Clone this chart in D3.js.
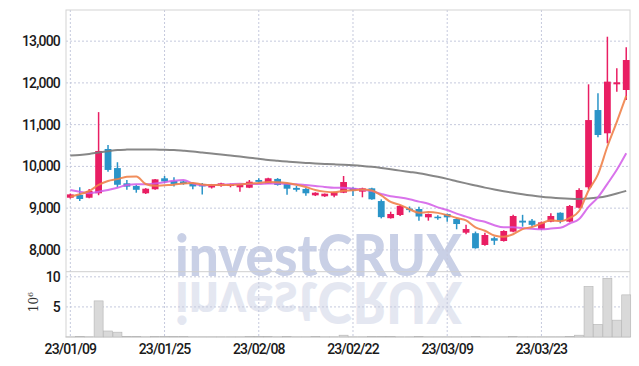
<!DOCTYPE html>
<html><head><meta charset="utf-8">
<script src="https://cdn.jsdelivr.net/npm/d3@7"></script>
<style>body{margin:0;background:#fff}svg{display:block}</style>
</head><body>
<svg id="c" width="639" height="366"></svg>
<script>
const dates = ["23/01/09","23/01/10","23/01/11","23/01/12","23/01/13","23/01/16","23/01/17","23/01/18","23/01/19","23/01/20",
"23/01/25","23/01/26","23/01/27","23/01/30","23/01/31","23/02/01","23/02/02","23/02/03","23/02/06","23/02/07",
"23/02/08","23/02/09","23/02/10","23/02/13","23/02/14","23/02/15","23/02/16","23/02/17","23/02/20","23/02/21",
"23/02/22","23/02/23","23/02/24","23/02/27","23/02/28","23/03/02","23/03/03","23/03/06","23/03/07","23/03/08",
"23/03/09","23/03/10","23/03/13","23/03/14","23/03/15","23/03/16","23/03/17","23/03/20","23/03/21","23/03/22",
"23/03/23","23/03/24","23/03/27","23/03/28","23/03/29","23/03/30","23/03/31","23/04/03","23/04/04","23/04/05"];
const open  = [9250,9315,9250,9356,10417,9960,9595,9530,9356,9452, 9715,9650,9640,9600,9580,9495,9530,9530,9500,9490,
 9675,9586,9700,9580,9485,9460,9307,9284,9300,9370, 9483,9395,9475,9170,8760,8836,8990,8980,8780,8795,
 8860,8740,8412,8400,8118,8280,8213,8437,8700,8700, 8500,8676,8890,8676,9011,9500,11350,10793,11966,11830];
const high  = [9350,9500,9460,11300,10510,10100,9675,9560,9480,9700, 9770,9740,9660,9620,9600,9580,9610,9590,9580,9675,
 9715,9730,9720,9590,9530,9480,9380,9350,9390,9770, 9500,9490,9490,9210,8915,9075,9040,9035,8870,8830,
 8870,8760,8600,8440,8412,8320,8470,8840,8840,8740, 8680,8880,8900,9075,9475,11966,11750,13106,12350,12852];
const low   = [9230,9170,9240,9310,9870,9500,9440,9370,9340,9440, 9600,9520,9560,9450,9330,9470,9510,9500,9395,9480,
 9620,9580,9540,9320,9395,9300,9290,9270,9260,9360, 9290,9260,9200,8755,8750,8815,8900,8700,8700,8720,
 8676,8494,8375,8030,8100,8120,8200,8420,8556,8556, 8477,8660,8637,8660,9000,9452,10697,10553,11790,11590];
const close = [9330,9220,9410,10370,9915,9560,9515,9440,9466,9690, 9640,9580,9580,9520,9520,9567,9595,9580,9570,9634,
 9630,9715,9555,9466,9440,9356,9370,9346,9380,9626, 9420,9475,9212,8785,8860,9052,8960,8800,8860,8765,
 8780,8620,8500,8040,8357,8220,8453,8812,8655,8600, 8660,8812,8700,9052,9435,11110,10752,12030,12014,12548];
const volume = [0.02,0.1,0.03,6.0,1.0,0.8,0.1,0.1,0.03,0.08, 0.08,0.08,0.08,0.03,0.03,0.03,0.03,0.03,0.03,0.08,
 0.08,0.08,0.03,0.08,0.03,0.03,0.08,0.03,0.03,0.3, 0.03,0.03,0.1,0.1,0.1,0.03,0.03,0.1,0.03,0.03,
 0.03,0.03,0.03,0.1,0.03,0.03,0.03,0.1,0.03,0.03, 0.03,0.03,0.03,0.1,0.3,8.4,2.1,9.75,2.8,7.0];
const ma5 = [9274,9332,9411,9555,9649,9695,9754,9760,9579,9534, 9550,9563,9591,9602,9568,9553,9556,9556,9566,9589,
 9602,9626,9621,9600,9561,9506,9437,9396,9378,9416, 9428,9449,9423,9304,9150,9077,8974,8891,8906,8887,
 8833,8765,8705,8541,8459,8347,8314,8376,8499,8548, 8636,8708,8685,8765,8932,9422,9810,10476,11068,11691];
const ma10 = [9435,9394,9356,9394,9435,9490,9554,9571,9571,9592, 9623,9659,9676,9591,9551,9552,9560,9574,9584,9579,
 9578,9591,9589,9583,9575,9554,9532,9508,9489,9488, 9467,9443,9409,9341,9283,9253,9212,9157,9105,9019,
 8955,8869,8798,8724,8673,8590,8540,8541,8520,8504, 8492,8511,8531,8632,8741,9030,9260,9582,9918,10313];
const maLong = [10259,10275,10299,10333,10364,10393,10402,10405,10405,10402, 10400,10393,10376,10357,10333,10309,10287,10261,10235,10208,
 10182,10153,10134,10115,10098,10084,10072,10060,10050,10041, 10029,10012,9990,9964,9933,9899,9868,9837,9796,9751,
 9701,9646,9593,9543,9492,9447,9406,9368,9332,9301, 9274,9253,9236,9224,9219,9229,9253,9293,9349,9413];
const priceTicks = [8000,9000,10000,11000,12000,13000];
const volTicks = [5,10];
const dateTickIdx = [0,10,20,30,40,50];

const svg = d3.select("#c");
const L = 66, R = 630, T = 10, MID = 271.7, B = 337;
const x = d3.scaleLinear().domain([-0.46, 59.4]).range([L, R]);
const y = d3.scaleLinear().domain([7478, 13746]).range([MID, T]);
const yv = d3.scaleLinear().domain([0, 10.85]).range([B, MID]);
const FONT = "Roboto,'Liberation Sans Narrow',sans-serif";
const idx = d3.range(dates.length);

// watermark
const wm = svg.append("g");
wm.append("text").attr("x", 175).attr("y", 276).text("investCRUX")
  .attr("font-family", "Lato,'DejaVu Sans',sans-serif").attr("font-weight", 900).attr("font-size", 58)
  .attr("textLength", 287).attr("lengthAdjust", "spacingAndGlyphs")
  .attr("fill", "#c9d0e6");
wm.append("text").attr("transform", "translate(0,558) scale(1,-1)").attr("x", 175).attr("y", 276).text("investCRUX")
  .attr("font-family", "Lato,'DejaVu Sans',sans-serif").attr("font-weight", 900).attr("font-size", 58)
  .attr("textLength", 287).attr("lengthAdjust", "spacingAndGlyphs")
  .attr("fill", "#e4e7f1");

// grid
const g = svg.append("g");
g.selectAll(".hg").data(priceTicks).join("line")
  .attr("x1", L).attr("x2", R).attr("y1", d => y(d)).attr("y2", d => y(d))
  .attr("stroke", "#c5c9dd").attr("stroke-dasharray", "2,2");
g.selectAll(".vg").data(volTicks).join("line")
  .attr("x1", L).attr("x2", R).attr("y1", d => yv(d)).attr("y2", d => yv(d))
  .attr("stroke", "#c5c9dd").attr("stroke-dasharray", "2,2");
g.selectAll(".xg").data(dateTickIdx).join("line")
  .attr("x1", d => x(d)).attr("x2", d => x(d)).attr("y1", T).attr("y2", B)
  .attr("stroke", "#c5c9dd").attr("stroke-dasharray", "2,2");

// frame
svg.append("rect").attr("x", L).attr("y", T).attr("width", R - L).attr("height", B - T)
  .attr("fill", "none").attr("stroke", "#d4d4d4");
svg.append("line").attr("x1", L).attr("x2", R).attr("y1", MID).attr("y2", MID).attr("stroke", "#cfcfcf");

// volume
svg.selectAll(".vb").data(idx).join("rect")
  .attr("x", i => x(i) - 4.5).attr("width", 9)
  .attr("y", i => yv(volume[i])).attr("height", i => B - yv(volume[i]))
  .attr("fill", "#d9d9d9").attr("stroke", "#b5b5b5").attr("stroke-width", 0.6);

// candles
const up = "#e91e63", down = "#2a94c8";
const cg = svg.append("g");
cg.selectAll(".wk").data(idx).join("line")
  .attr("x1", i => x(i)).attr("x2", i => x(i))
  .attr("y1", i => y(high[i])).attr("y2", i => y(low[i]))
  .attr("stroke", i => close[i] >= open[i] ? up : down).attr("stroke-width", 1.5);
cg.selectAll(".bd").data(idx).join("rect")
  .attr("x", i => x(i) - 3.4).attr("width", 6.8)
  .attr("y", i => y(Math.max(open[i], close[i])))
  .attr("height", i => Math.max(1.5, Math.abs(y(open[i]) - y(close[i]))))
  .attr("fill", i => close[i] >= open[i] ? up : down);

// MA lines
const line = arr => d3.line().x(i => x(i)).y(i => y(arr[i])).curve(d3.curveMonotoneX)(idx);
svg.append("path").attr("d", line(maLong)).attr("fill", "none").attr("stroke", "#7a7a7a").attr("stroke-width", 2).attr("opacity", 0.9);
svg.append("path").attr("d", line(ma10)).attr("fill", "none").attr("stroke", "#d25ae8").attr("stroke-width", 2).attr("opacity", 0.85);
svg.append("path").attr("d", line(ma5)).attr("fill", "none").attr("stroke", "#f0824a").attr("stroke-width", 2).attr("opacity", 0.9);

// axes labels
svg.selectAll(".pl").data(priceTicks).join("text")
  .attr("x", 60).attr("y", d => y(d) + 5).attr("text-anchor", "end")
  .attr("font-family", FONT).attr("font-weight", 500).attr("font-size", 14).attr("letter-spacing", "-0.8px").attr("fill", "#1a1a1a")
  .text(d => d3.format(",")(d));
svg.selectAll(".vl").data(volTicks).join("text")
  .attr("x", 60).attr("y", d => yv(d) + 5).attr("text-anchor", "end")
  .attr("font-family", FONT).attr("font-weight", 500).attr("font-size", 14).attr("letter-spacing", "-0.8px").attr("fill", "#1a1a1a")
  .text(d => d);
const vlab = svg.append("text").attr("transform", "translate(38,302) rotate(-90)")
  .attr("text-anchor", "middle").attr("font-family", "'DejaVu Serif',serif").attr("font-size", 12).attr("fill", "#333");
vlab.append("tspan").text("10");
vlab.append("tspan").attr("dy", -5).attr("font-size", 8).text("6");
svg.selectAll(".xl").data(dateTickIdx).join("text")
  .attr("x", d => x(d)).attr("y", 354).attr("text-anchor", "middle")
  .attr("font-family", FONT).attr("font-weight", 500).attr("font-size", 14).attr("letter-spacing", "-0.9px").attr("fill", "#1a1a1a")
  .text(d => dates[d]);
</script>
</body></html>
